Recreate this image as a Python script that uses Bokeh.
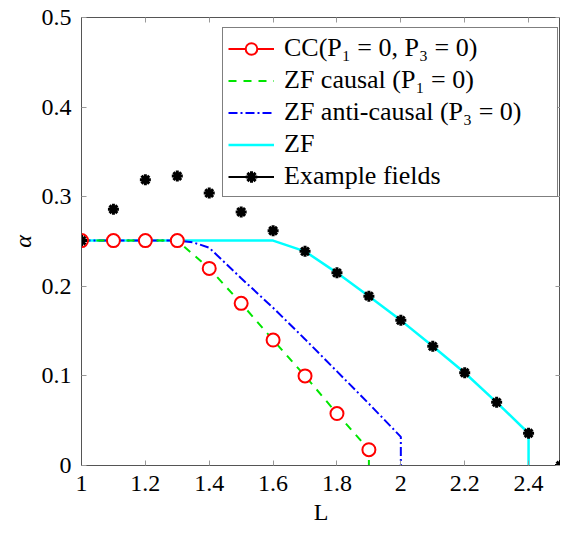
from bokeh.plotting import figure
from bokeh.models import (LinearAxis, Legend, LegendItem, FixedTicker,
                          CustomJSTickFormatter, Range1d)
from bokeh.embed import file_html
from bokeh.resources import INLINE

# ---- data ----
L_fields = [1.0, 1.1, 1.2, 1.3, 1.4, 1.5, 1.6, 1.7, 1.8, 1.9, 2.0, 2.1, 2.2, 2.3, 2.4, 2.5]
alpha_fields = [0.251, 0.286, 0.319, 0.323, 0.304, 0.283, 0.262, 0.239, 0.215, 0.189,
                0.162, 0.133, 0.1035, 0.0705, 0.036, 0.0]

L_cc = [1.0, 1.1, 1.2, 1.3, 1.4, 1.5, 1.6, 1.7, 1.8, 1.9]
alpha_cc = [0.251, 0.251, 0.251, 0.251, 0.220, 0.181, 0.140, 0.100, 0.058, 0.0176]

L_zf_causal = [1.0, 1.3, 1.4, 1.5, 1.6, 1.7, 1.8, 1.9, 1.9]
alpha_zf_causal = [0.251, 0.251, 0.220, 0.181, 0.140, 0.100, 0.058, 0.0176, 0.0]

L_zf_anticausal = [1.0, 1.3, 1.35, 1.4, 1.5, 1.6, 1.7, 1.8, 1.9, 2.0, 2.0]
alpha_zf_anticausal = [0.251, 0.251, 0.249, 0.243, 0.209, 0.176, 0.141, 0.105, 0.069, 0.032, 0.0]

L_zf = [1.0, 1.6, 1.7, 1.8, 1.9, 2.0, 2.1, 2.2, 2.3, 2.4, 2.4]
alpha_zf = [0.251, 0.251, 0.239, 0.215, 0.189, 0.162, 0.133, 0.1035, 0.0705, 0.036, 0.0]

x_ticks = [1, 1.2, 1.4, 1.6, 1.8, 2, 2.2, 2.4]
y_ticks = [0, 0.1, 0.2, 0.3, 0.4, 0.5]

labels = ["CC(P\u2081 = 0, P\u2083 = 0)", "ZF causal (P\u2081 = 0)",
          "ZF anti-causal (P\u2083 = 0)", "ZF", "Example fields"]

FONT = "'Liberation Serif', serif"
NAN = float("nan")

p = figure(frame_width=479, frame_height=448, output_backend="svg",
           toolbar_location=None, x_range=Range1d(1, 2.5), y_range=Range1d(0, 0.5),
           min_border_left=0, min_border_top=0, min_border_right=0, min_border_bottom=0)
p.margin = (0, 0, 0, 6)
# a blank, tiny title keeps room above the frame for the "0.5" tick label
p.title.text = "\u00a0"
p.title.text_font_size = "8px"
p.title.standoff = 6
p.xgrid.visible = False
p.ygrid.visible = False
p.outline_line_color = "#555555"
p.background_fill_color = "white"
p.border_fill_color = "white"

fmt = CustomJSTickFormatter(code="return (Math.round(tick*1000)/1000).toString();")
blank = CustomJSTickFormatter(code="return '';")

def style_axis(ax, ticks, show_labels=True):
    ax.ticker = FixedTicker(ticks=ticks)
    ax.major_tick_in = 5
    ax.major_tick_out = 0
    ax.minor_tick_line_color = None
    ax.major_tick_line_color = "#999999"
    ax.axis_line_color = "#555555"
    ax.major_label_text_font = FONT
    ax.major_label_text_color = "black"
    if show_labels:
        ax.formatter = fmt
        ax.major_label_text_font_size = "24px"
    else:
        ax.formatter = blank
        ax.major_label_text_font_size = "1px"
        ax.major_label_standoff = 0

style_axis(p.xaxis[0], x_ticks)
style_axis(p.yaxis[0], y_ticks)
p.xaxis[0].major_label_standoff = 10
p.yaxis[0].major_label_standoff = 10
p.xaxis[0].axis_label = "L"
p.yaxis[0].axis_label = "\u03b1"
for ax in (p.xaxis[0], p.yaxis[0]):
    ax.axis_label_text_font = FONT
    ax.axis_label_text_font_size = "24px"
    ax.axis_label_text_font_style = "normal"
    ax.axis_label_text_color = "black"
p.yaxis[0].axis_label_text_font_style = "italic"
p.yaxis[0].axis_label_standoff = 3
p.xaxis[0].axis_label_standoff = 5

top = LinearAxis()
right = LinearAxis()
style_axis(top, x_ticks, False)
style_axis(right, y_ticks, False)
p.add_layout(top, "above")
p.add_layout(right, "right")

# ---- plot data ----
p.line(L_zf, alpha_zf, line_color="#00ffff", line_width=2.5)
p.line(L_zf_anticausal, alpha_zf_anticausal, line_color="#0000ff", line_width=2,
       line_dash="9 3 2 3")
p.line(L_zf_causal, alpha_zf_causal, line_color="#00e600", line_width=2,
       line_dash="8 7")
p.scatter(L_cc, alpha_cc, marker="circle", size=13, line_color="#ff0000",
          line_width=2, fill_color="white")
p.scatter(L_fields, alpha_fields, marker="asterisk", size=11, line_color="black",
          line_width=3)

# ---- legend proxies (nothing drawn in the plot) ----
lg_cc_line = p.line([NAN], [NAN], line_color="#ff0000", line_width=2)
lg_cc_mark = p.scatter([NAN], [NAN], marker="circle", size=9, line_color="#ff0000",
                       line_width=2, fill_color="white")
lg_c = p.line([NAN], [NAN], line_color="#00e600", line_width=2, line_dash="8 7")
lg_a = p.line([NAN], [NAN], line_color="#0000ff", line_width=2, line_dash="9 3 2 3")
lg_z = p.line([NAN], [NAN], line_color="#00ffff", line_width=2.5)
lg_f_line = p.line([NAN], [NAN], line_color="black", line_width=2)
lg_f_mark = p.scatter([NAN], [NAN], marker="asterisk", size=8, line_color="black",
                      line_width=3)

legend = Legend(items=[
    LegendItem(label=labels[0], renderers=[lg_cc_line, lg_cc_mark]),
    LegendItem(label=labels[1], renderers=[lg_c]),
    LegendItem(label=labels[2], renderers=[lg_a]),
    LegendItem(label=labels[3], renderers=[lg_z]),
    LegendItem(label=labels[4], renderers=[lg_f_line, lg_f_mark]),
], location=(141, 268))
legend.margin = 0
legend.padding = 5
legend.spacing = 2
legend.glyph_width = 46
legend.glyph_height = 29
legend.label_height = 29
legend.label_standoff = 10
legend.label_width = 268
legend.label_text_font = FONT
legend.label_text_font_size = "26px"
legend.label_text_color = "black"
legend.border_line_color = "black"
legend.border_line_width = 1
legend.background_fill_alpha = 1
p.add_layout(legend)

open("out.html", "w").write(file_html(p, INLINE))
